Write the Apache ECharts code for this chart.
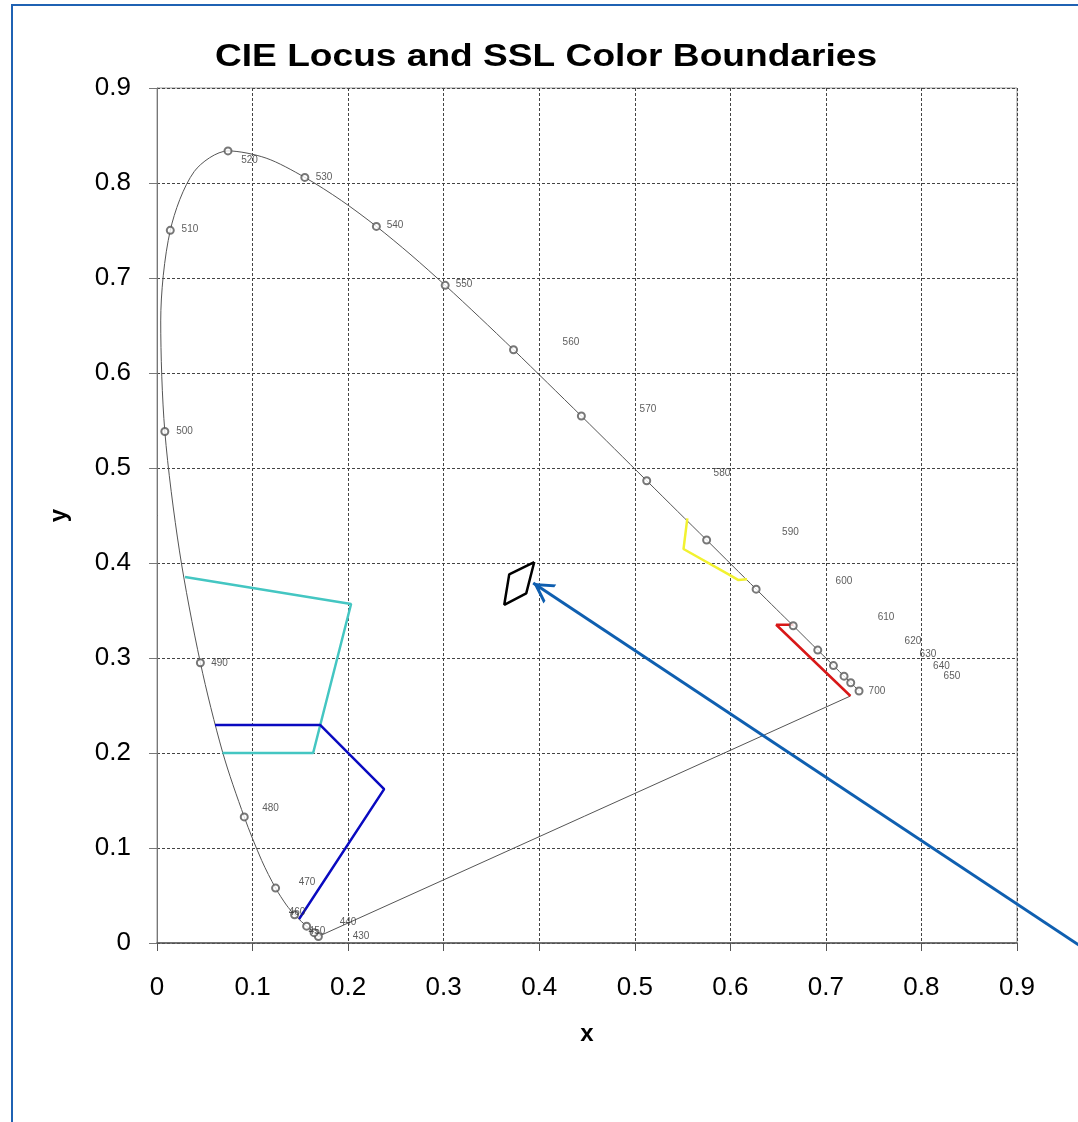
<!DOCTYPE html>
<html><head><meta charset="utf-8">
<script src="https://cdn.jsdelivr.net/npm/echarts@6/dist/echarts.min.js"></script>
<style>html,body{margin:0;padding:0;background:#fff}#c{width:1078px;height:1122px}</style>
</head><body><div id="c"></div>
<script>
// Spectral locus (CIE 1931 chromaticity)
const locusX = [0.1689,0.1669,0.1644,0.1611,0.1566,0.1510,0.1440,0.1355,0.1241,0.1096,0.0913,0.0687,0.0454,0.0235,0.0082,0.0039,0.0139,0.0389,0.0743,0.1142,0.1547,0.1929,0.2296,0.2658,0.3016,0.3373,0.3731,0.4087,0.4441,0.4788,0.5125,0.5448,0.5752,0.6029,0.6270,0.6482,0.6658,0.6801,0.6915,0.7006,0.7079,0.7140,0.7190,0.7230,0.7260,0.7300,0.7320,0.7334,0.7344,0.7347];
const locusY = [0.0069,0.0086,0.0109,0.0138,0.0177,0.0227,0.0297,0.0399,0.0578,0.0868,0.1327,0.2007,0.2950,0.4127,0.5384,0.6548,0.7502,0.8120,0.8338,0.8262,0.8059,0.7816,0.7543,0.7243,0.6923,0.6589,0.6245,0.5896,0.5547,0.5202,0.4866,0.4544,0.4242,0.3965,0.3725,0.3514,0.3340,0.3197,0.3083,0.2993,0.2920,0.2859,0.2809,0.2770,0.2740,0.2700,0.2680,0.2666,0.2656,0.2653];
// marked wavelengths (circles)
const markX = [0.1689,0.1644,0.1566,0.1440,0.1241,0.0913,0.0454,0.0082,0.0139,0.0743,0.1547,0.2296,0.3016,0.3731,0.4441,0.5125,0.5752,0.6270,0.6658,0.6915,0.7079,0.7190,0.7260,0.7347];
const markY = [0.0069,0.0109,0.0177,0.0297,0.0578,0.1327,0.2950,0.5384,0.7502,0.8338,0.8059,0.7543,0.6923,0.6245,0.5547,0.4866,0.4242,0.3725,0.3340,0.3083,0.2920,0.2809,0.2740,0.2653];
// wavelength labels and where they sit
const labelText = ['430','440','450','460','470','480','490','500','510','520','530','540','550','560','570','580','590','600','610','620','630','640','650','700'];
const labelX = [0.2135,0.1999,0.1674,0.1465,0.1570,0.1188,0.0654,0.0288,0.0345,0.0968,0.1748,0.2491,0.3213,0.4332,0.5138,0.5912,0.6629,0.7189,0.7629,0.7911,0.8068,0.8209,0.8319,0.7534];
const labelY = [0.0074,0.0221,0.0126,0.0326,0.0642,0.1421,0.2947,0.5389,0.7516,0.8242,0.8063,0.7558,0.6937,0.6326,0.5621,0.4947,0.4326,0.3811,0.3432,0.3179,0.3042,0.2916,0.2811,0.2653];
// line of purples
const purpleX = [0.1689, 0.7257];
const purpleY = [0.0069, 0.2600];
// SSL colour boundaries
const cyanX = [0.0293, 0.2031, 0.1634, 0.0685];
const cyanY = [0.3853, 0.3568, 0.2000, 0.2000];
const blueX = [0.0607, 0.1707, 0.2377, 0.1487];
const blueY = [0.2295, 0.2295, 0.1620, 0.0253];
const yellowX = [0.5550, 0.5510, 0.6000, 0.6085, 0.6175];
const yellowY = [0.4470, 0.4147, 0.3870, 0.3820, 0.3830];
const redX = [0.6660, 0.6480, 0.7257];
const redY = [0.3350, 0.3350, 0.2600];
const whiteX = [0.3948, 0.3864, 0.3634, 0.3686, 0.3948];
const whiteY = [0.4010, 0.3680, 0.3560, 0.3880, 0.4010];
// annotation arrow (tail, tip)
const arrowX = [1.0000, 0.3937];
const arrowY = [-0.0258, 0.3790];
// axis ticks
const ticks = [0,0.1,0.2,0.3,0.4,0.5,0.6,0.7,0.8,0.9];
const titleText = 'CIE Locus and SSL Color Boundaries';

const zip = (xs, ys) => xs.map((x, i) => [x, ys[i]]);
const fmt = v => (Math.abs(v) < 1e-9 ? '0' : v.toFixed(1));
const FONT = '"Liberation Sans", Arial, sans-serif';

function poly(xs, ys, color, width) {
  return { type: 'line', data: zip(xs, ys), symbol: 'none', silent: true,
    lineStyle: { color: color, width: width }, z: 4 };
}

// open arrowhead, tip at the centre of a 40x40 box (the first sub-path only sets the box)
const chevron = 'path://M0,0 L40,0 L0,0 Z M20,20 L31.5,40 L28,40 L20,26 L12,40 L8.5,40 Z';

const chart = echarts.init(document.getElementById('c'), null, { renderer: 'canvas' });
chart.setOption({
  animation: false,
  backgroundColor: '#fff',
  grid: { left: 157, top: 88, width: 860, height: 855, show: true, borderColor: '#999', borderWidth: 1 },
  xAxis: { type: 'value', min: ticks[0], max: ticks[ticks.length - 1], interval: 0.1,
    name: 'x', nameLocation: 'middle', nameGap: 79,
    nameTextStyle: { fontFamily: FONT, fontSize: 24, fontWeight: 'bold', color: '#000' },
    axisLine: { show: true, lineStyle: { color: '#555', width: 1.5 } },
    axisTick: { show: true, length: 8, lineStyle: { color: '#555' } },
    axisLabel: { formatter: fmt, fontFamily: FONT, fontSize: 26, color: '#000', margin: 32 },
    splitLine: { show: true, lineStyle: { type: [3, 2], color: '#444', width: 1 } } },
  yAxis: { type: 'value', min: ticks[0], max: ticks[ticks.length - 1], interval: 0.1,
    name: 'y', nameLocation: 'middle', nameGap: 86, nameRotate: 90,
    nameTextStyle: { fontFamily: FONT, fontSize: 24, fontWeight: 'bold', color: '#000' },
    axisLine: { show: true, lineStyle: { color: '#777', width: 1 } },
    axisTick: { show: true, length: 8, lineStyle: { color: '#777' } },
    axisLabel: { formatter: fmt, fontFamily: FONT, fontSize: 26, color: '#000', margin: 26 },
    splitLine: { show: true, lineStyle: { type: [3, 2], color: '#444', width: 1 } } },
  graphic: [
    { type: 'line', shape: { x1: 12, y1: 4, x2: 12, y2: 1122 }, style: { stroke: '#1F62B3', lineWidth: 2 } },
    { type: 'line', shape: { x1: 11, y1: 5, x2: 1078, y2: 5 }, style: { stroke: '#1F62B3', lineWidth: 2 } },
    { type: 'text', x: 546, y: 57, scaleX: 1.16, z: 10,
      style: { text: titleText, fontFamily: FONT, fontSize: 32, fontWeight: 'bold', fill: '#000',
        textAlign: 'center', textVerticalAlign: 'middle' } }
  ],
  series: [
    { type: 'line', data: zip(locusX, locusY), smooth: 0.3, symbol: 'none', silent: true,
      lineStyle: { color: '#555', width: 1 }, z: 3 },
    poly(purpleX, purpleY, '#555', 1),
    poly(cyanX, cyanY, '#44C6C2', 2.5),
    poly(blueX, blueY, '#0A0AC0', 2.5),
    poly(yellowX, yellowY, '#F2F230', 2.5),
    poly(redX, redY, '#D81818', 2.5),
    poly(whiteX, whiteY, '#000', 2.5),
    { type: 'scatter', data: zip(markX, markY), symbol: 'emptyCircle', symbolSize: 7, silent: true,
      itemStyle: { color: '#555', borderWidth: 0.8 }, z: 5 },
    { type: 'scatter', silent: true, symbolSize: 1, itemStyle: { color: 'rgba(0,0,0,0)' }, z: 6,
      data: labelText.map((t, i) => ({ name: t, value: [labelX[i], labelY[i]] })),
      label: { show: true, position: 'inside', formatter: p => p.name,
        fontFamily: FONT, fontSize: 10, color: '#333' } },
    { type: 'lines', coordinateSystem: 'cartesian2d', clip: false, silent: true, z: 7,
      symbol: ['none', chevron], symbolSize: 40,
      lineStyle: { color: '#0F5FB0', width: 3, opacity: 1 },
      data: [{ coords: zip(arrowX, arrowY) }] }
  ]
});
</script></body></html>
